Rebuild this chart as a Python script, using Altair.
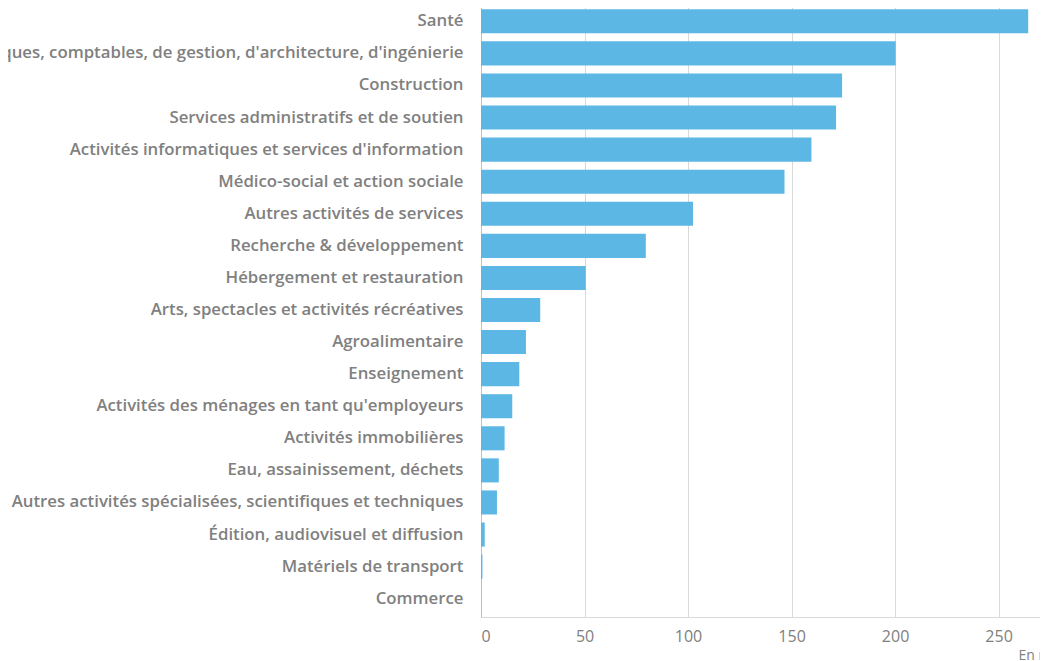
import altair as alt
import pandas as pd

NBSP = "\u00a0"
categories = [
    "Santé" + NBSP,
    "Activités juridiques, comptables, de gestion, d'architecture, d'ingénierie",
    "Construction",
    "Services administratifs et de soutien",
    "Activités informatiques et services d'information",
    "Médico-social et action sociale" + NBSP,
    "Autres activités de services",
    "Recherche & développement" + NBSP,
    "Hébergement et restauration",
    "Arts, spectacles et activités récréatives",
    "Agroalimentaire",
    "Enseignement",
    "Activités des ménages en tant qu'employeurs",
    "Activités immobilières",
    "Eau, assainissement, déchets" + NBSP,
    "Autres activités spécialisées, scientifiques et techniques",
    "Édition, audiovisuel et diffusion",
    "Matériels de transport",
    "Commerce" + NBSP,
]
values = [264.3, 200.3, 174.4, 171.5, 159.6, 146.6, 102.4, 79.6, 50.6, 28.6,
          21.7, 18.5, 15.1, 11.4, 8.6, 7.7, 1.8, 0.7, 0.0]
x_ticks = [0, 50, 100, 150, 200, 250]

df = pd.DataFrame({"secteur": categories, "valeur": values})

FONT = "Open Sans"
GREY = "#808080"

chart = (
    alt.Chart(df)
    .mark_bar(color="#5DB7E4")
    .encode(
        y=alt.Y(
            "secteur:N",
            sort=None,
            scale=alt.Scale(paddingInner=0.25, paddingOuter=0.196),
            axis=alt.Axis(
                title=None,
                ticks=False,
                labelLimit=2000,
                labelPadding=18,
                labelFont=FONT,
                labelFontSize=16.8,
                labelFontWeight=600,
                labelColor=GREY,
                domain=True,
                domainColor="#bfbfbf",
            ),
        ),
        x=alt.X(
            "valeur:Q",
            scale=alt.Scale(domain=[0, 270], nice=False),
            axis=alt.Axis(
                values=x_ticks,
                grid=True,
                gridColor="#d9d9d9",
                ticks=False,
                domainColor="#d9d9d9",
                labelFont=FONT,
                labelFontSize=16,
                labelColor=GREY,
                labelPadding=11,
                title="En millions d'euros",
                titleFont=FONT,
                titleFontSize=14,
                titleFontWeight="normal",
                titleColor=GREY,
                titleX=537,
                titleY=31,
                titleAlign="left",
                titleBaseline="top",
                titleAnchor="start",
            ),
        ),
    )
    .properties(
        width=559,
        height=614,
        autosize=alt.AutoSizeParams(type="none"),
        padding={"left": 473, "top": -5, "right": 0, "bottom": 44},
    )
    .configure_view(stroke=None)
)

chart.save("out.html", embed_options={"renderer": "svg", "actions": False})
